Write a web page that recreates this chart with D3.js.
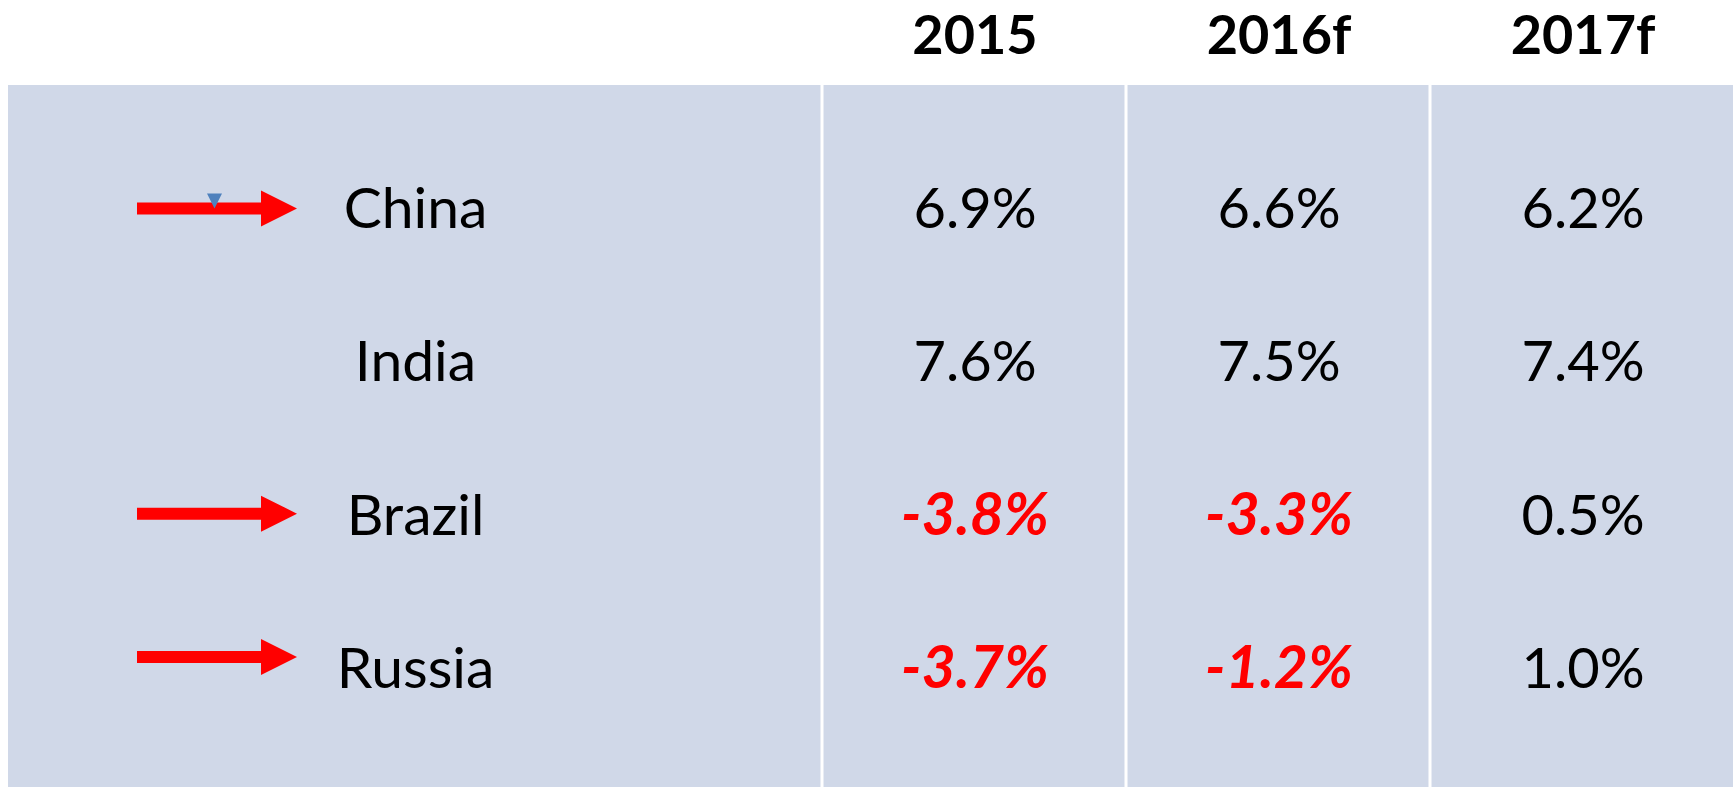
<!DOCTYPE html>
<html>
<head>
<meta charset="utf-8">
<script src="https://cdn.jsdelivr.net/npm/d3@7"></script>
<style>
  body { margin: 0; background: #fff; }
  svg { display: block; }
  text { font-family: Lato, 'Open Sans', sans-serif; }
</style>
</head>
<body>
<script>
const countries = ['China', 'India', 'Brazil', 'Russia'];
const years = ['2015', '2016f', '2017f'];
const growth2015 = [6.9, 7.6, -3.8, -3.7];
const growth2016 = [6.6, 7.5, -3.3, -1.2];
const growth2017 = [6.2, 7.4, 0.5, 1.0];
// rows flagged with an arrow, nudge is how far above the baseline it sits
const arrowRows = ['China', 'Brazil', 'Russia'];
const arrowNudge = [-19.5, -21, -31];

const w = 1735,
  h = 787;
const panelTop = 85,
  panelLeft = 8,
  panelRight = 1733;

const series = [growth2015, growth2016, growth2017];

const svg = d3
  .select('body')
  .append('svg')
  .attr('width', w)
  .attr('height', h);

const xScale = d3.scaleBand().domain(years).range([823, 1735]);
const yScale = d3.scalePoint().domain(countries).range([228, 688]);

svg
  .append('rect')
  .attr('x', panelLeft)
  .attr('y', panelTop)
  .attr('width', panelRight - panelLeft)
  .attr('height', h - panelTop)
  .attr('fill', '#d0d8e8');

// white cell borders between the columns
svg
  .selectAll('line.divider')
  .data(years)
  .enter()
  .append('line')
  .attr('class', 'divider')
  .attr('x1', d => xScale(d) - 1)
  .attr('x2', d => xScale(d) - 1)
  .attr('y1', panelTop)
  .attr('y2', h)
  .attr('stroke', '#fff')
  .attr('stroke-width', 3);

svg
  .selectAll('text.year')
  .data(years)
  .enter()
  .append('text')
  .attr('class', 'year')
  .attr('x', d => xScale(d) + xScale.bandwidth() / 2)
  .attr('y', 54)
  .attr('text-anchor', 'middle')
  .attr('font-size', 54)
  .attr('font-weight', 'bold')
  .attr('fill', '#000')
  .text(d => d);

svg
  .selectAll('text.country')
  .data(countries)
  .enter()
  .append('text')
  .attr('class', 'country')
  .attr('x', (panelLeft + xScale(years[0])) / 2)
  .attr('y', d => yScale(d))
  .attr('text-anchor', 'middle')
  .attr('font-size', 57)
  .attr('fill', '#000')
  .text(d => d);

const cells = [];
series.forEach((vals, j) => {
  vals.forEach((v, i) => {
    cells.push({ year: years[j], country: countries[i], value: v });
  });
});

svg
  .selectAll('text.value')
  .data(cells)
  .enter()
  .append('text')
  .attr('class', 'value')
  .attr('x', d => xScale(d.year) + xScale.bandwidth() / 2)
  .attr('y', d => yScale(d.country))
  .attr('text-anchor', 'middle')
  .attr('font-size', d => (d.value < 0 ? 59 : 56))
  .attr('font-weight', d => (d.value < 0 ? 'bold' : 'normal'))
  .attr('font-style', d => (d.value < 0 ? 'italic' : 'normal'))
  .attr('fill', d => (d.value < 0 ? '#ff0000' : '#000'))
  .text(d => d.value.toFixed(1) + '%');

// red arrows pointing at the rows
const arrowPath = d3.path();
arrowPath.moveTo(0, -6);
arrowPath.lineTo(124, -6);
arrowPath.lineTo(124, -18);
arrowPath.lineTo(160, 0);
arrowPath.lineTo(124, 18);
arrowPath.lineTo(124, 6);
arrowPath.lineTo(0, 6);
arrowPath.closePath();

const arrows = svg
  .selectAll('g.arrow')
  .data(arrowRows)
  .enter()
  .append('g')
  .attr('class', 'arrow')
  .attr('transform', (d, i) => `translate(137, ${yScale(d) + arrowNudge[i]})`);

arrows
  .append('path')
  .attr('d', arrowPath.toString())
  .attr('fill', '#ff0000');

// little blue marker sitting on the first arrow
arrows
  .filter((d, i) => i === 0)
  .append('path')
  .attr('d', 'M70,-15 L85,-15 L77.5,0 Z')
  .attr('fill', '#4f81bd');
</script>
</body>
</html>
